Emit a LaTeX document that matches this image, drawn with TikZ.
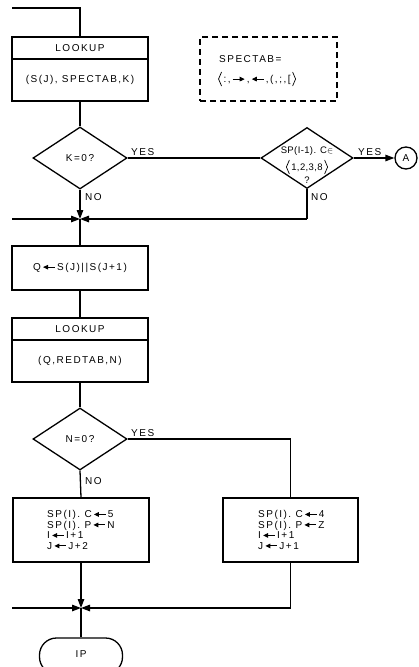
\documentclass[tikz,border=0pt]{standalone}
\usepackage{fontspec}
\setmainfont{Liberation Sans}
\newfontfamily\lbl[LetterSpace=15]{Liberation Sans}
\newfontfamily\lbltight[LetterSpace=4]{Liberation Sans}
\usetikzlibrary{shapes.geometric,arrows.meta}
\newcommand{\lar}{\,\tikz[baseline=-3.4pt,x=1pt,y=1pt]\draw[line width=0.9pt,{Triangle[length=5pt,width=4.5pt]}-] (0,0)--(12,0);\,}
\newcommand{\rar}{\,\tikz[baseline=-3.4pt,x=1pt,y=1pt]\draw[line width=0.9pt,-{Triangle[length=5pt,width=4.5pt]}] (0,0)--(12,0);\,}
\newcommand{\lang}{\tikz[baseline=0pt,x=1pt,y=1pt]\draw[line width=0.7pt] (3.5,10.5)--(0.5,3.5)--(3.5,-3.5);\,}
\newcommand{\rang}{\,\tikz[baseline=0pt,x=1pt,y=1pt]\draw[line width=0.7pt] (0.5,10.5)--(3.5,3.5)--(0.5,-3.5);}
\begin{document}
\begin{tikzpicture}[x=1pt,y=-1pt,
  every node/.style={font=\lbl\fontsize{10}{10.5}\selectfont},
  ln/.style={line width=1.3pt},
  box/.style={draw,line width=1.3pt,rectangle,inner sep=0pt},
  dia/.style={draw,line width=1.3pt,diamond,inner sep=0pt,minimum width=94pt,minimum height=62pt},
  tip/.style={-{Triangle[length=9pt,width=6.5pt]}},
  txt/.style={inner sep=0pt},
  tight/.style={inner sep=0pt,font=\lbltight\fontsize{9.5}{10}\selectfont}]
\useasboundingbox (0,0) rectangle (419,667);
\clip (0,0) rectangle (419,667);
\fill[white] (0,0) rectangle (419,667);

% entry
\coordinate (in0) at (12,8);
\coordinate (in1) at (80,8);

% first LOOKUP
\node[box,minimum width=136pt,minimum height=22pt] (lk1a) at (80,48) {LOOKUP};
\node[box,minimum width=136pt,minimum height=42pt] (lk1b) at (80,80) {(S(J), SPECTAB,K)};
\draw[ln] (in0) -- (in1) -- (lk1a.north);

% SPECTAB note
\node[draw,dash pattern=on 6pt off 4pt,line width=1.1pt,minimum width=137pt,minimum height=64pt,inner sep=0pt] (spec) at (268.5,69) {};
\node[txt,anchor=west] (spec1) at (219,59) {SPECTAB=};
\node[txt,anchor=west] (spec2) at (218,79) {\lang:,\rar,\lar,(,;,[\rang};

% decision K=0?
\node[dia] (d1) at (80,158) {K=0?};
\draw[ln] (lk1b.south) -- (d1.north);

% decision SP(I-1).C
\node[dia,minimum width=92pt,minimum height=61pt] (d2) at (307,158) {};
\node[tight] (d2a) at (307,151.5) {SP(I-1). C$\in$};
\node[tight] (d2b) at (307,167) {\lang1,2,3,8\rang};
\node[tight] (d2c) at (307,180) {?};
\draw[ln] (d1.east) -- (d2.west);
\node[txt,anchor=south west] (y1) at (131,156) {YES};

% connector A
\node[draw,circle,line width=1.3pt,minimum size=22pt,inner sep=0pt] (A) at (406,158) {A};
\draw[ln,tip] (d2.east) -- (A.west);
\node[txt,anchor=south west] (y2) at (358,156) {YES};

% junction 1
\coordinate (j1) at (80,219);
\coordinate (j1l) at (12,219);
\coordinate (c2) at (307,219);
\draw[ln,tip] (d1.south) -- (j1);
\draw[ln,tip] (j1l) -- (j1);
\draw[ln] (d2.south) -- (c2);
\draw[ln,tip] (c2) -- (j1);
\node[txt,anchor=west] (n1) at (85,197) {NO};
\node[txt,anchor=west] (n2) at (311,197) {NO};

% Q box
\node[box,minimum width=136pt,minimum height=44pt] (qb) at (80,268) {Q\lar S(J)||S(J+1)};
\draw[ln] (j1) -- (qb.north);

% second LOOKUP
\node[box,minimum width=136pt,minimum height=22pt] (lk2a) at (80,329) {LOOKUP};
\node[box,minimum width=136pt,minimum height=42pt] (lk2b) at (80,361) {(Q,REDTAB,N)};
\draw[ln] (qb.south) -- (lk2a.north);

% decision N=0?
\node[dia] (d3) at (80,439) {N=0?};
\draw[ln] (lk2b.south) -- (d3.north);
\node[txt,anchor=south west] (y3) at (131,437) {YES};
\node[txt,anchor=west] (n3) at (85,481) {NO};

% left action box
\node[box,minimum width=136pt,minimum height=64pt] (b3) at (81,530) {};
\node[txt,anchor=west,align=left] (b3t) at (47,530) {SP(I). C\lar 5\\SP(I). P\lar N\\I\lar I+1\\J\lar J+2};
\draw[ln] (d3.south) -- (b3.north);

% right action box
\node[box,minimum width=135pt,minimum height=64pt] (b4) at (290.5,530) {};
\node[txt,anchor=west,align=left] (b4t) at (258,530) {SP(I). C\lar 4\\SP(I). P\lar Z\\I\lar I+1\\J\lar J+1};
\draw[ln] (d3.east) -| (b4.north);

% junction 2
\coordinate (j2) at (81,608);
\coordinate (j2l) at (12,608);
\coordinate (c4) at (290.5,608);
\draw[ln,tip] (b3.south) -- (j2);
\draw[ln,tip] (j2l) -- (j2);
\draw[ln] (b4.south) -- (c4);
\draw[ln,tip] (c4) -- (j2);

% terminal
\node[draw,line width=1.3pt,rectangle,rounded corners=17pt,minimum width=83pt,minimum height=36pt,inner sep=0pt] (ip) at (81,656) {};
\node[txt] (ipt) at (81,654) {IP};
\draw[ln] (j2) -- (ip.north);
\end{tikzpicture}
\end{document}
